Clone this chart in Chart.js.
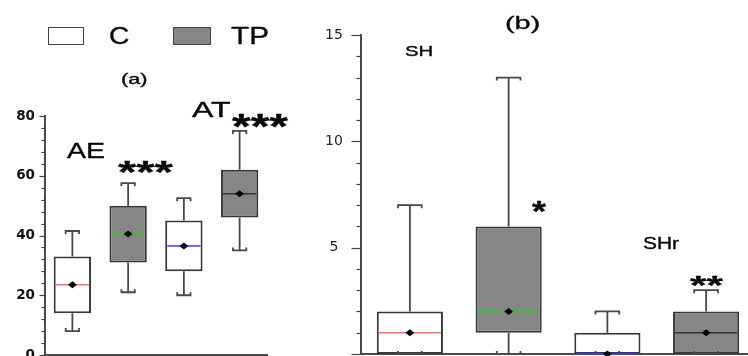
<!DOCTYPE html>
<html>
<head>
<meta charset="utf-8">
<script src="https://cdn.jsdelivr.net/npm/chart.js@4.4.1/dist/chart.umd.min.js"></script>
<style>
  html, body { margin: 0; padding: 0; background: #fff; }
  #page { position: relative; width: 748px; height: 356px; overflow: hidden; background: #fff; }
  canvas { position: absolute; top: 0; }
  #chartA { left: 0; }
  #chartB { left: 300px; }
  .swatch { position: absolute; box-sizing: border-box; border: 1.5px solid #444; }
  .txt { position: absolute; white-space: nowrap; color: #0a0a0a; transform-origin: 0 0;
         -webkit-text-stroke: 0.35px #0a0a0a; }
</style>
</head>
<body>
<div id="page">
  <canvas id="chartA" width="300" height="380"></canvas>
  <canvas id="chartB" width="460" height="380"></canvas>
  <div class="swatch" style="left:48px;top:27px;width:36px;height:18px;background:#fff"></div>
  <div class="swatch" style="left:173px;top:27px;width:38px;height:18px;background:#868686"></div>
</div>
<script>
// panel (a): AE / AT, control vs TP
var groupsA = ['AE C', 'AE TP', 'AT C', 'AT TP'];
var lowA    = [8, 21, 20, 35];
var q1A     = [14, 31, 28, 46];
var medianA = [23.5, 40.5, 36.5, 54];
var q3A     = [33, 50, 45, 62];
var highA   = [41.5, 57.5, 52.5, 75];
var meanA   = [23.5, 40.5, 36.5, 54];
var ticksA  = [0, 20, 40, 60, 80];

// panel (b): SH / SHr
var groupsB = ['SH C', 'SH TP', 'SHr C', 'SHr TP'];
var lowB    = [0, 0, 0, 0];
var q1B     = [0, 1, 0, 0];
var medianB = [1, 2, 0, 1];
var q3B     = [2, 6, 1, 2];
var highB   = [7, 13, 2, 3];
var meanB   = [1, 2, 0, 1];
var ticksB  = [5, 10, 15];

var boxFills = ['#ffffff', '#868686', '#ffffff', '#868686'];
var medianColors = ['#ff6e6e', '#22cc22', '#3c3cf0', '#333333'];

Chart.defaults.font.family = '"DejaVu Sans", sans-serif';

function drawWhisker(ctx, cx, yBox, yEnd, capHalf, defaultDir) {
    var dir = yBox > yEnd ? 1 : (yBox < yEnd ? -1 : defaultDir);
    ctx.beginPath();
    ctx.moveTo(cx, yBox);
    ctx.lineTo(cx, yEnd);
    ctx.moveTo(cx - capHalf, yEnd + 3 * dir);
    ctx.lineTo(cx - capHalf, yEnd);
    ctx.lineTo(cx + capHalf, yEnd);
    ctx.lineTo(cx + capHalf, yEnd + 3 * dir);
    ctx.stroke();
}

function boxPlugin(cfg) {
    return {
        id: 'boxParts',
        afterDatasetsDraw: function(chart) {
            var ctx = chart.ctx;
            var y = chart.scales.y;
            var meta = chart.getDatasetMeta(0);
            var step = chart.scales.x.width / cfg.groups.length;
            ctx.save();
            for (var i = 0; i < cfg.groups.length; i++) {
                var bar = meta.data[i];
                var cx = bar.x;
                var half = bar.width / 2;
                ctx.strokeStyle = '#484848';
                ctx.lineWidth = 1.8;
                drawWhisker(ctx, cx, y.getPixelForValue(cfg.q3[i]), y.getPixelForValue(cfg.high[i]), step * 0.12, 1);
                drawWhisker(ctx, cx, y.getPixelForValue(cfg.q1[i]), y.getPixelForValue(cfg.low[i]), step * 0.12, -1);

                // median
                var ym = y.getPixelForValue(cfg.median[i]);
                ctx.strokeStyle = medianColors[i];
                ctx.lineWidth = 1.5;
                ctx.beginPath();
                ctx.moveTo(cx - half + 2, ym);
                ctx.lineTo(cx + half - 2, ym);
                ctx.stroke();

                // mean
                var yn = y.getPixelForValue(cfg.mean[i]);
                ctx.fillStyle = '#000';
                ctx.beginPath();
                ctx.moveTo(cx - 4.5, yn);
                ctx.lineTo(cx, yn - 3.5);
                ctx.lineTo(cx + 4.5, yn);
                ctx.lineTo(cx, yn + 3.5);
                ctx.closePath();
                ctx.fill();
            }
            ctx.restore();
        }
    };
}

// ticks with long majors and short minors
function tickPlugin(cfg) {
    return {
        id: 'axisTicks',
        afterDraw: function(chart) {
            var y = chart.scales.y;
            var ctx = chart.ctx;
            var left = chart.chartArea.left;
            ctx.save();
            ctx.strokeStyle = '#444';
            ctx.lineWidth = 1.2;
            y.ticks.forEach(function(t) {
                var py = Math.round(y.getPixelForValue(t.value)) + 0.5;
                var len = t.value % cfg.majorStep === 0 ? cfg.majorLen : cfg.minorLen;
                ctx.beginPath();
                ctx.moveTo(left - len, py);
                ctx.lineTo(left, py);
                ctx.stroke();
            });
            ctx.restore();
        }
    };
}

function makeChart(id, cfg) {
    return new Chart(document.getElementById(id), {
        type: 'bar',
        data: {
            labels: cfg.groups,
            datasets: [{
                data: cfg.q1.map(function(v, i) { return [v, cfg.q3[i]]; }),
                backgroundColor: boxFills,
                borderColor: '#383838',
                borderWidth: 2,
                borderSkipped: false,
                barPercentage: 0.67,
                categoryPercentage: 1
            }]
        },
        options: {
            responsive: false,
            animation: false,
            devicePixelRatio: 1,
            events: [],
            layout: { padding: cfg.padding },
            plugins: { legend: { display: false }, tooltip: { enabled: false } },
            scales: {
                x: {
                    grid: { display: false, drawTicks: false },
                    ticks: { display: false },
                    border: { display: true, color: '#4a4a4a', width: 2 },
                    afterFit: function(s) { s.height = 0; }
                },
                y: {
                    min: cfg.min,
                    max: cfg.max,
                    grid: { display: false, drawTicks: false },
                    border: { display: true, color: '#4a4a4a', width: 2 },
                    ticks: {
                        stepSize: cfg.minorStep,
                        autoSkip: false,
                        padding: cfg.labelPad,
                        crossAlign: cfg.crossAlign,
                        color: cfg.labelColor,
                        font: cfg.font,
                        callback: function(v) { return cfg.labels.indexOf(v) >= 0 ? v : ''; }
                    },
                    afterFit: function(s) { s.width = cfg.axisWidth; }
                }
            }
        },
        plugins: [boxPlugin(cfg), tickPlugin(cfg)]
    });
}

makeChart('chartA', {
    groups: groupsA, low: lowA, q1: q1A, median: medianA, q3: q3A, high: highA, mean: meanA,
    labels: ticksA, min: 0, max: 80, minorStep: 4, majorStep: 20, majorLen: 5, minorLen: 3,
    padding: { left: 0, top: 116, right: 32.5, bottom: 25 },
    axisWidth: 44.5, labelPad: 9.5, crossAlign: 'near', labelColor: '#111',
    font: { size: 13.5, weight: 'bold' }
});

makeChart('chartB', {
    groups: groupsB, low: lowB, q1: q1B, median: medianB, q3: q3B, high: highB, mean: meanB,
    labels: ticksB, min: 0, max: 15, minorStep: 1, majorStep: 5, majorLen: 9, minorLen: 4,
    padding: { left: 0, top: 35, right: 4.5, bottom: 24 },
    axisWidth: 60.5, labelPad: 17.6, crossAlign: 'center', labelColor: '#222',
    font: { size: 14 }
});

// legend, titles and significance marks, fitted to their boxes in the picture
var page = document.getElementById('page');
var measureCtx = document.createElement('canvas').getContext('2d');
var family = '"Liberation Sans", Arial, sans-serif';

function placeText(str, box, weight) {
    var base = 100;
    measureCtx.font = weight + ' ' + base + 'px ' + family;
    var m = measureCtx.measureText(str);
    var inkH = m.actualBoundingBoxAscent + m.actualBoundingBoxDescent;
    var size = base * (box[3] - box[1]) / inkH;
    var k = size / base;
    var inkW = (m.actualBoundingBoxLeft + m.actualBoundingBoxRight) * k;
    var sx = (box[2] - box[0]) / inkW;
    var asc = m.fontBoundingBoxAscent * k;
    var desc = m.fontBoundingBoxDescent * k;
    var baseFromTop = (size - asc - desc) / 2 + asc;
    var baseline = box[3] - m.actualBoundingBoxDescent * k;
    var el = document.createElement('div');
    el.className = 'txt';
    el.textContent = str;
    el.style.font = weight + ' ' + size + 'px ' + family;
    el.style.lineHeight = size + 'px';
    el.style.left = (box[0] + m.actualBoundingBoxLeft * k * sx) + 'px';
    el.style.top = (baseline - baseFromTop) + 'px';
    el.style.transform = 'scaleX(' + sx + ')';
    page.appendChild(el);
}

var texts = [
    ['C',   [110, 28, 128, 45], 'normal'],
    ['TP',  [232, 28, 268, 45], 'normal'],
    ['(a)', [122, 75, 146, 88], 'normal'],
    ['(b)', [507, 16, 539, 33], 'normal'],
    ['AE',  [67, 143, 104, 158], 'normal'],
    ['***', [118, 162, 173, 174], 'bold'],
    ['AT',  [192, 103, 230, 118], 'normal'],
    ['***', [232, 114, 288, 127], 'bold'],
    ['SH',  [406, 45, 432, 56], 'normal'],
    ['*',   [532, 202, 546, 213], 'bold'],
    ['SHr', [644, 238, 679, 250], 'normal'],
    ['**',  [690, 276, 723, 286], 'bold']
];
texts.forEach(function(t) { placeText(t[0], t[1], t[2]); });
</script>
</body>
</html>
